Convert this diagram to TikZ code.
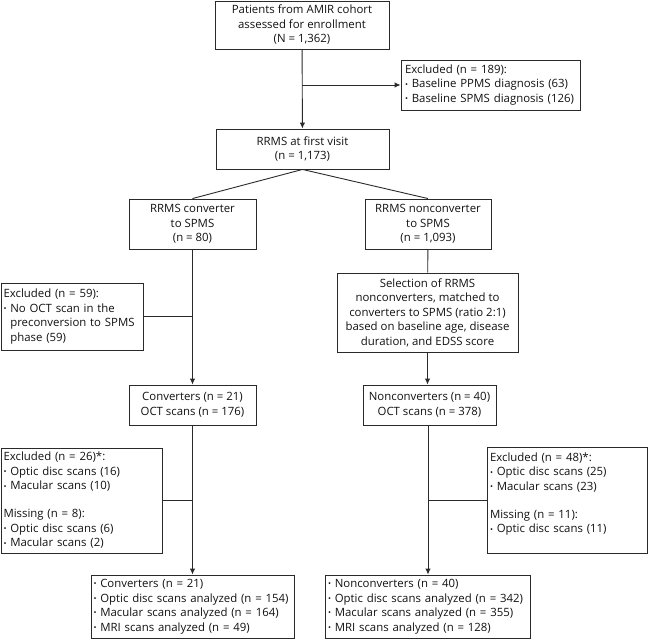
\documentclass[tikz,border=0pt]{standalone}
\usepackage{fontspec}
\setmainfont{Open Sans}
\usetikzlibrary{arrows.meta}
\definecolor{ink}{HTML}{111111}
\definecolor{edge}{HTML}{2A2A2A}
\newcommand{\bul}{\raisebox{0.12ex}{\scalebox{0.7}{•}}\ }
\newcommand{\hang}{\phantom{\bul}}
\begin{document}
\begin{tikzpicture}[x=1pt,y=-1pt,
  box/.style={draw=edge,line width=0.9pt,inner sep=0pt,text=ink,
    font=\fontsize{11.4}{14.5}\selectfont},
  cbox/.style={box,align=center},
  lbox/.style={box,align=left},
  conn/.style={draw=edge,line width=0.9pt},
  arr/.style={conn,-{Latex[length=6pt,width=5.5pt]}}]
\useasboundingbox (0,0) rectangle (648,639);
\node[cbox,minimum width=174pt,minimum height=48pt] (top) at (302,25)
  {Patients from AMIR cohort\\assessed for enrollment\\(N = 1,362)};
\node[lbox,minimum width=179pt,minimum height=50pt,text width=171pt] (ex1) at (490.5,85)
  {Excluded (n = 189):\\\bul Baseline PPMS diagnosis (63)\\\bul Baseline SPMS diagnosis (126)};
\node[cbox,minimum width=173pt,minimum height=40pt] (rrms) at (302.5,149)
  {RRMS at first visit\\(n = 1,173)};
\node[cbox,minimum width=127pt,minimum height=50pt] (conv) at (192.5,224)
  {RRMS converter\\to SPMS\\(n = 80)};
\node[cbox,minimum width=126pt,minimum height=50pt] (nconv) at (428,224)
  {RRMS nonconverter\\to SPMS\\(n = 1,093)};
\node[lbox,minimum width=142pt,minimum height=67pt,text width=137pt] (ex59) at (72,316.5)
  {Excluded (n = 59):\\\bul No OCT scan in the\\\hang preconversion to SPMS\\\hang phase (59)};
\node[cbox,minimum width=181pt,minimum height=79pt] (sel) at (427.5,312.5)
  {Selection of RRMS\\nonconverters, matched to\\converters to SPMS (ratio 2:1)\\based on baseline age, disease\\duration, and EDSS score};
\node[cbox,minimum width=127pt,minimum height=40pt] (cv) at (192.5,405)
  {Converters (n = 21)\\OCT scans (n = 176)};
\node[cbox,minimum width=133pt,minimum height=40pt] (ncv) at (429.5,405)
  {Nonconverters (n = 40)\\OCT scans (n = 378)};
\node[lbox,minimum width=161pt,minimum height=105pt,text width=156pt] (ex26) at (81.5,500.5)
  {Excluded (n = 26)*:\\\bul Optic disc scans (16)\\\bul Macular scans (10)\\[13.5pt]Missing (n = 8):\\\bul Optic disc scans (6)\\\bul Macular scans (2)};
\node[lbox,minimum width=160pt,minimum height=106pt,text width=154pt] (ex48) at (567,500)
  {Excluded (n = 48)*:\\\bul Optic disc scans (25)\\\bul Macular scans (23)\\[13.5pt]Missing (n = 11):\\\bul Optic disc scans (11)\\\mbox{}};
\node[lbox,minimum width=203pt,minimum height=63pt,text width=198pt] (fin1) at (192.5,606.5)
  {\bul Converters (n = 21)\\\bul Optic disc scans analyzed (n = 154)\\\bul Macular scans analyzed (n = 164)\\\bul MRI scans analyzed (n = 49)};
\node[lbox,minimum width=205pt,minimum height=63pt,text width=200pt] (fin2) at (428,606.5)
  {\bul Nonconverters (n = 40)\\\bul Optic disc scans analyzed (n = 342)\\\bul Macular scans analyzed (n = 355)\\\bul MRI scans analyzed (n = 128)};
% connectors
\draw[arr] (top) -- (rrms);
\coordinate (b1) at (top.south |- ex1.west);
\draw[arr] (b1) -- (ex1.west);
\draw[conn] (rrms.south) -- (conv.north);
\draw[conn] (rrms.south) -- (nconv.north);
\draw[arr] (conv) -- (cv);
\coordinate (b2) at (conv.south |- ex59.east);
\draw[conn] (b2) -- (ex59.east);
\draw[conn] (nconv) -- (sel);
\draw[arr] (sel.south) -- (sel.south |- ncv.north);
\draw[arr] (cv) -- (fin1);
\coordinate (b3) at (cv.south |- ex26.east);
\draw[conn] (b3) -- (ex26.east);
\draw[arr] (ncv.south -| fin2.north) -- (fin2.north);
\coordinate (b4) at (fin2.north |- ex48.west);
\draw[conn] (b4) -- (ex48.west);
\end{tikzpicture}
\end{document}
